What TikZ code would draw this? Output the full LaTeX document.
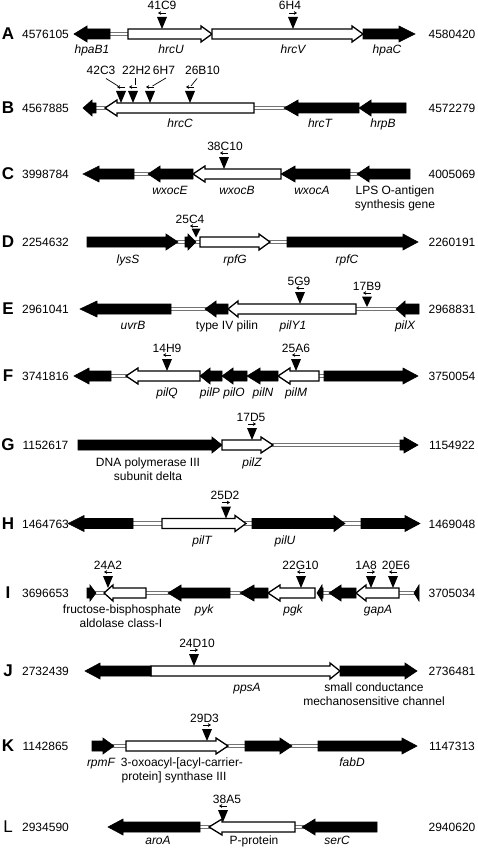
\documentclass[tikz,border=0pt]{standalone}
\usepackage{fontspec}
\setmainfont{Liberation Sans}
\usetikzlibrary{arrows.meta}
% gene arrow: tail x, head-base x, tip x, centre y, style
\newcommand{\gn}[5]{\draw[#5] (#1,#4-5) -- (#2,#4-5) -- (#2,#4-8) -- (#3,#4) -- (#2,#4+8) -- (#2,#4+5) -- (#1,#4+5) -- cycle;}
% intergenic spacer: x1, x2, centre y
\newcommand{\spc}[3]{\draw[spacerbox] (#1,#3-1.8) rectangle (#2,#3+1.8);}
% insertion marker without label: x, centre y, direction (1 / -1)
\newcommand{\insb}[3]{\fill (#1-5,#2-17) -- (#1+5,#2-17) -- (#1,#2-5) -- cycle;
  \draw[dirarr] (#1-4*#3,#2-21) -- (#1+4*#3,#2-21);}
% insertion marker with label: x, centre y, direction, label, label x
\newcommand{\ins}[5]{\insb{#1}{#2}{#3}\node[lbl] at (#5,#2-24) {#4};}
\begin{document}
\begin{tikzpicture}[x=1pt,y=-1pt,
  blk/.style={fill=black,draw=black,line width=0.6pt,line join=miter},
  wht/.style={fill=white,draw=black,line width=1.3pt,line join=miter},
  spacerbox/.style={fill=white,draw=black!55,line width=0.8pt},
  dirarr/.style={-{Stealth[length=3.2pt,width=3.8pt]},line width=0.8pt},
  leader/.style={line width=0.7pt},
  lbl/.style={font=\fontsize{12}{14}\selectfont,inner sep=0pt,anchor=base},
  glbl/.style={font=\fontsize{12}{14}\selectfont\itshape,inner sep=0pt,anchor=base},
  ltr/.style={font=\fontsize{17}{17}\selectfont\bfseries,inner sep=0pt,anchor=base},
  ltrm/.style={font=\fontsize{17}{17}\selectfont,inner sep=0pt,anchor=base}]
\useasboundingbox (0,0) rectangle (478,848);

% ---------------- A ----------------
\node[ltr] (lA) at (8,39.5) {A};
\node[lbl] (nA1) at (45.5,38.5) {4576105};
\node[lbl] (nA2) at (452,38.5) {4580420};
\spc{108}{130}{34}
\gn{110}{87}{74}{34}{blk}
\gn{128}{201}{212}{34}{wht}
\gn{212}{352}{363}{34}{wht}
\gn{363}{399}{415}{34}{blk}
\node[glbl] at (92,54) {hpaB1};
\node[glbl] at (171,54) {hrcU};
\node[glbl] at (293,54) {hrcV};
\node[glbl] at (387,54) {hpaC};
\ins{162}{34}{-1}{41C9}{162}
\ins{293}{34}{1}{6H4}{290}

% ---------------- B ----------------
\node[ltr] (lB) at (8,113.5) {B};
\node[lbl] at (45.5,112.5) {4567885};
\node[lbl] at (452,112.5) {4572279};
\spc{94}{107}{108}
\spc{252}{286}{108}
\gn{96}{92}{83}{108}{blk}
\gn{254}{117}{105}{108}{wht}
\gn{359}{298}{284}{108}{blk}
\gn{406}{371}{359}{108}{blk}
\node[glbl] at (180,128) {hrcC};
\node[glbl] at (320,128) {hrcT};
\node[glbl] at (383,128) {hrpB};
\insb{121}{108}{-1}
\insb{133}{108}{-1}
\insb{150}{108}{-1}
\insb{190}{108}{-1}
\node[lbl] at (101,75) {42C3};
\node[lbl] at (136.5,75) {22H2};
\node[lbl] at (164,75) {6H7};
\node[lbl] at (202.5,75) {26B10};
\draw[leader] (106,78.5) -- (118,86);
\draw[leader] (135,78.5) -- (135,85.5);
\draw[leader] (166,78) -- (152.5,86);
\draw[leader] (197,78.5) -- (191,86);

% ---------------- C ----------------
\node[ltr] at (8,179.5) {C};
\node[lbl] at (45.5,178.5) {3998784};
\node[lbl] at (452,178.5) {4005069};
\spc{132}{150}{174}
\spc{348}{359}{174}
\gn{134}{99}{83}{174}{blk}
\gn{193}{160}{148}{174}{blk}
\gn{281}{205}{193}{174}{wht}
\gn{350}{295}{281}{174}{blk}
\gn{410}{369}{357}{174}{blk}
\node[glbl] at (170,194) {wxocE};
\node[glbl] at (237,194) {wxocB};
\node[glbl] at (312,194) {wxocA};
\node[lbl] at (395,194) {LPS O-antigen};
\node[lbl] at (395,208.5) {synthesis gene};
\ins{224}{174}{-1}{38C10}{225}

% ---------------- D ----------------
\node[ltr] at (8,247.5) {D};
\node[lbl] at (45.5,246.5) {2254632};
\node[lbl] at (452,246.5) {2260191};
\spc{176}{187}{242}
\spc{194}{202}{242}
\spc{267}{289}{242}
\gn{87}{166}{178}{242}{blk}
\gn{185}{188}{196}{242}{blk}
\gn{200}{259}{270}{242}{wht}
\gn{287}{403}{418}{242}{blk}
\node[glbl] at (128,263) {lysS};
\node[glbl] at (235,263) {rpfG};
\node[glbl] at (347,263) {rpfC};
\fill (191.5,228.5) -- (200.5,228.5) -- (196,237.5) -- cycle;
\draw[dirarr] (198,226) -- (190,226);
\node[lbl] at (190,223.5) {25C4};

% ---------------- E ----------------
\node[ltr] at (8,314.5) {E};
\node[lbl] at (45.5,313.5) {2961041};
\node[lbl] at (452,313.5) {2968831};
\spc{169}{207}{309}
\spc{354}{398}{309}
\gn{171}{97}{80}{309}{blk}
\gn{228}{216}{205}{309}{blk}
\gn{356}{238}{228}{309}{wht}
\gn{419}{405}{396}{309}{blk}
\node[glbl] at (133,329) {uvrB};
\node[lbl] at (227,329) {type IV pilin};
\node[glbl] at (293,329) {pilY1};
\node[glbl] at (405,329) {pilX};
\ins{300}{309}{-1}{5G9}{299}
\fill (362,296.5) -- (372,296.5) -- (367,307) -- cycle;
\draw[dirarr] (371,293) -- (363,293);
\node[lbl] at (367,290) {17B9};

% ---------------- F ----------------
\node[ltr] at (8,381.5) {F};
\node[lbl] at (45.5,380.5) {3741816};
\node[lbl] at (452,380.5) {3750054};
\spc{109}{128}{376}
\spc{317}{326}{376}
\gn{111}{89}{74}{376}{blk}
\gn{200}{138}{126}{376}{wht}
\gn{222}{210}{200}{376}{blk}
\gn{247}{233}{222}{376}{blk}
\gn{278}{260}{247}{376}{blk}
\gn{319}{290}{278}{376}{wht}
\gn{324}{403}{418}{376}{blk}
\node[glbl] at (167,396) {pilQ};
\node[glbl] at (210,396) {pilP};
\node[glbl] at (234,396) {pilO};
\node[glbl] at (263,396) {pilN};
\node[glbl] at (296,396) {pilM};
\ins{167}{376}{-1}{14H9}{167}
\ins{296}{376}{-1}{25A6}{296}

% ---------------- G ----------------
\node[ltr] at (8,450.5) {G};
\node[lbl] at (45.5,449.5) {1152617};
\node[lbl] at (452,449.5) {1154922};
\spc{271}{402}{445}
\gn{78}{212}{222}{445}{blk}
\gn{222}{261}{273}{445}{wht}
\gn{400}{404}{418}{445}{blk}
\node[lbl] at (148,466) {DNA polymerase III};
\node[lbl] at (148,480) {subunit delta};
\node[glbl] at (252,466) {pilZ};
\ins{252}{445}{1}{17D5}{251}

% ---------------- H ----------------
\node[ltr] at (8,529) {H};
\node[lbl] at (45.5,528) {1464763};
\node[lbl] at (452,528) {1469048};
\spc{131}{164}{523.5}
\spc{244}{254}{523.5}
\spc{343}{363}{523.5}
\gn{133}{84}{68}{523.5}{blk}
\gn{162}{235}{246}{523.5}{wht}
\gn{252}{334}{345}{523.5}{blk}
\gn{361}{405}{420}{523.5}{blk}
\node[glbl] at (202,544.5) {pilT};
\node[glbl] at (285,544.5) {pilU};
\ins{226}{523.5}{1}{25D2}{225}

% ---------------- I ----------------
\node[ltr] at (8,598.5) {I};
\node[lbl] at (45.5,597.5) {3696653};
\node[lbl] at (452,597.5) {3705034};
\spc{95}{107}{593}
\spc{144}{170}{593}
\spc{228}{242}{593}
\spc{321}{331}{593}
\spc{397}{415}{593}
\gn{87}{90}{96}{593}{blk}
\gn{146}{113}{104}{593}{wht}
\gn{230}{181}{168}{593}{blk}
\gn{268}{254}{240}{593}{blk}
\gn{315}{280}{268}{593}{wht}
\gn{323}{322}{317}{593}{blk}
\gn{356}{341}{329}{593}{blk}
\gn{399}{366}{356}{593}{wht}
\gn{419}{419}{414}{593}{blk}
\node[lbl] at (122,613) {fructose-bisphosphate};
\node[lbl] at (121,627) {aldolase class-I};
\node[glbl] at (204,613) {pyk};
\node[glbl] at (293,613) {pgk};
\node[glbl] at (378,613) {gapA};
\ins{108}{593}{-1}{24A2}{108}
\ins{301}{593}{-1}{22G10}{300.5}
\ins{371}{593}{1}{1A8}{366}
\ins{393}{593}{-1}{20E6}{396}

% ---------------- J ----------------
\node[ltr] at (8,676.5) {J};
\node[lbl] at (45.5,675.5) {2732439};
\node[lbl] at (452,675.5) {2736481};
\gn{151}{330}{340}{671}{wht}
\gn{151}{100}{85}{671}{blk}
\gn{340}{405}{417}{671}{blk}
\node[glbl] at (247,691) {ppsA};
\node[lbl] at (374,691) {small conductance};
\node[lbl] at (374,705) {mechanosensitive channel};
\ins{194}{671}{1}{24D10}{197}

% ---------------- K ----------------
\node[ltr] at (8,751.5) {K};
\node[lbl] at (45.5,750.5) {1142865};
\node[lbl] at (452,750.5) {1147313};
\spc{112}{128}{746}
\spc{226}{247}{746}
\spc{290}{320}{746}
\gn{92}{103}{114}{746}{blk}
\gn{126}{216}{228}{746}{wht}
\gn{245}{280}{292}{746}{blk}
\gn{318}{402}{417}{746}{blk}
\node[glbl] at (101,766) {rpmF};
\node[lbl] at (182,766) {3-oxoacyl-[acyl-carrier-};
\node[lbl] at (174,780) {protein] synthase III};
\node[glbl] at (352,766) {fabD};
\ins{207}{746}{1}{29D3}{204.5}

% ---------------- L ----------------
\node[ltrm] at (8,832.5) {L};
\node[lbl] at (45.5,831.5) {2934590};
\node[lbl] at (452,831.5) {2940620};
\spc{198}{211}{827}
\spc{293}{304}{827}
\gn{200}{123}{108}{827}{blk}
\gn{295}{222}{209}{827}{wht}
\gn{377}{315}{302}{827}{blk}
\node[glbl] at (158,844) {aroA};
\node[lbl] at (254,844) {P-protein};
\node[glbl] at (337,844) {serC};
\ins{223}{827}{-1}{38A5}{227}
\end{tikzpicture}
\end{document}
